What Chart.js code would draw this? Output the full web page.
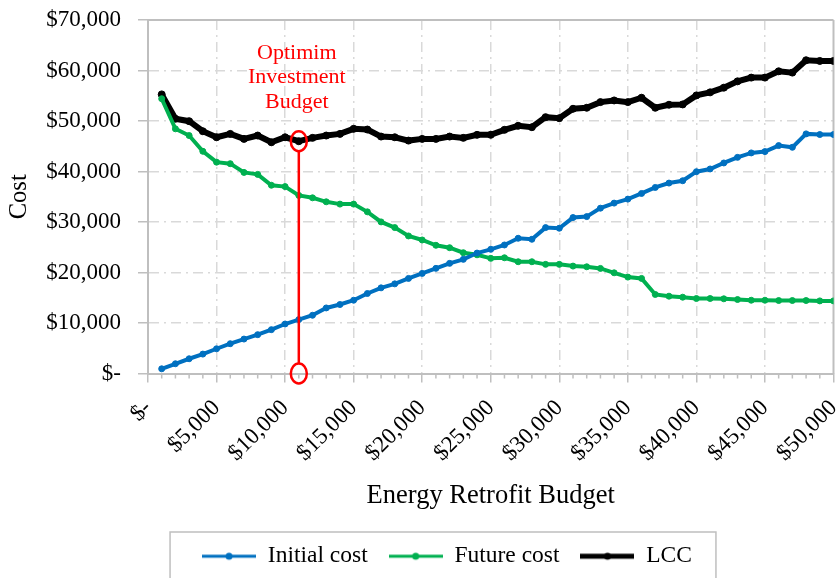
<!DOCTYPE html>
<html>
<head>
<meta charset="utf-8">
<script src="https://cdn.jsdelivr.net/npm/chart.js@4.4.1/dist/chart.umd.min.js"></script>
<style>
  html, body { margin: 0; padding: 0; background: #fff; }
  #wrap { width: 838px; height: 578px; }
</style>
</head>
<body>
<div id="wrap"><canvas id="costChart" width="838" height="578"></canvas></div>
<script>
// budget levels ($)
const budgets = [1000, 2000, 3000, 4000, 5000, 6000, 7000, 8000, 9000, 10000,
  11000, 12000, 13000, 14000, 15000, 16000, 17000, 18000, 19000, 20000,
  21000, 22000, 23000, 24000, 25000, 26000, 27000, 28000, 29000, 30000,
  31000, 32000, 33000, 34000, 35000, 36000, 37000, 38000, 39000, 40000,
  41000, 42000, 43000, 44000, 45000, 46000, 47000, 48000, 49000, 50000];

const initialCost = [930, 1930, 2920, 3840, 4900, 5900, 6820, 7690, 8680, 9800,
  10670, 11530, 12980, 13660, 14510, 15840, 16960, 17750, 18830, 19820,
  20820, 21810, 22600, 23850, 24590, 25450, 26780, 26580, 28890, 28770,
  30880, 31070, 32740, 33740, 34530, 35650, 36840, 37710, 38170, 39960,
  40500, 41690, 42800, 43680, 43940, 45130, 44790, 47450, 47320, 47320];

const futureCost = [54410, 48450, 47120, 44000, 41850, 41550, 39820, 39430, 37280, 37010,
  35260, 34790, 34000, 33540, 33540, 32010, 30020, 28890, 27240, 26440,
  25390, 24910, 23920, 23500, 22800, 22920, 22130, 22130, 21610, 21610,
  21270, 21130, 20810, 19940, 19090, 18830, 15650, 15310, 15110, 14850,
  14850, 14790, 14650, 14510, 14510, 14450, 14450, 14450, 14380, 14380];

const lcc = [55270, 50440, 49960, 47970, 46780, 47450, 46460, 47120, 45790, 46780,
  45990, 46660, 47120, 47450, 48450, 48310, 46920, 46780, 46120, 46460,
  46460, 46920, 46660, 47260, 47260, 48250, 49050, 48770, 50760, 50560,
  52420, 52620, 53740, 54070, 53740, 54610, 52620, 53220, 53280, 55070,
  55670, 56600, 57850, 58590, 58590, 59840, 59580, 62030, 61890, 61890];

const seriesNames = ['Initial cost', 'Future cost', 'LCC'];
const optimumBudget = 11000;
const noteLines = ['Optimim', 'Investment', 'Budget'];

const FONT = 'Liberation Serif';
const GRID = '#d9d9d9';
const AXIS = '#bfbfbf';

function money(v) {
  if (v === 0) return '$-';
  return '$' + v.toLocaleString('en-US');
}

function toPoints(vals) {
  return budgets.map((b, i) => ({ x: b, y: vals[i] }));
}

// little line-with-dot picture for the legend
function legendSymbol(color, lw) {
  const c = document.createElement('canvas');
  c.width = 54; c.height = 12;
  const g = c.getContext('2d');
  g.strokeStyle = color; g.lineWidth = lw;
  g.beginPath(); g.moveTo(0, 6); g.lineTo(54, 6); g.stroke();
  g.fillStyle = color;
  g.beginPath(); g.arc(27, 6, 3.5, 0, Math.PI * 2); g.fill();
  return c;
}

const colors = ['#0070C0', '#00B050', '#000000'];
const symbols = [legendSymbol(colors[0], 3), legendSymbol(colors[1], 3), legendSymbol(colors[2], 5)];

const framePlugin = {
  id: 'frame',
  afterLayout(chart) {
    // legend in the reference sits a little right of the canvas centre
    chart.legend.left += 56;
  },
  beforeDatasetsDraw(chart) {
    const { ctx, chartArea: a, scales: { x } } = chart;
    ctx.save();
    ctx.strokeStyle = AXIS;
    ctx.lineWidth = 2;
    ctx.beginPath();
    ctx.moveTo(a.left, a.top); ctx.lineTo(a.right, a.top);
    ctx.moveTo(a.right, a.top); ctx.lineTo(a.right, a.bottom);
    ctx.stroke();
    // minor ticks every $1,000
    ctx.lineWidth = 1.5;
    ctx.beginPath();
    budgets.forEach(b => {
      if (b % 5000 !== 0) {
        const px = x.getPixelForValue(b);
        ctx.moveTo(px, a.bottom); ctx.lineTo(px, a.bottom + 5);
      }
    });
    ctx.stroke();
    ctx.restore();
  },
  afterDatasetsDraw(chart) {
    const { ctx, chartArea: a, scales: { x, y } } = chart;
    const idx = budgets.indexOf(optimumBudget);
    const px = x.getPixelForValue(optimumBudget);
    const yTop = y.getPixelForValue(lcc[idx]);
    const yBot = y.getPixelForValue(0);
    ctx.save();
    ctx.strokeStyle = '#FF0000';
    ctx.lineWidth = 2.5;
    ctx.beginPath();
    ctx.moveTo(px, yTop + 10); ctx.lineTo(px, yBot - 10);
    ctx.stroke();
    [yTop, yBot].forEach(cy => {
      ctx.beginPath();
      ctx.ellipse(px, cy, 8, 10, 0, 0, Math.PI * 2);
      ctx.stroke();
    });
    ctx.fillStyle = '#FF0000';
    ctx.font = '22px "' + FONT + '"';
    ctx.textAlign = 'center';
    ctx.textBaseline = 'middle';
    noteLines.forEach((t, i) => ctx.fillText(t, px - 2, a.top + 33 + i * 24.5));
    ctx.restore();
  },
  afterDraw(chart) {
    const boxes = chart.legend.legendHitBoxes;
    if (!boxes || !boxes.length) return;
    const l = Math.min(...boxes.map(b => b.left)) - 32;
    const r = Math.max(...boxes.map(b => b.left + b.width)) + 24;
    const ctx = chart.ctx;
    ctx.save();
    ctx.strokeStyle = AXIS;
    ctx.lineWidth = 1.5;
    ctx.strokeRect(l, 532, r - l, 60);
    ctx.restore();
  }
};

const ctx = document.getElementById('costChart');

new Chart(ctx, {
  type: 'line',
  data: {
    datasets: [
      { label: seriesNames[0], data: toPoints(initialCost), borderColor: colors[0], backgroundColor: colors[0],
        borderWidth: 4, pointRadius: 3, pointBorderWidth: 1, pointHoverRadius: 3 },
      { label: seriesNames[1], data: toPoints(futureCost), borderColor: colors[1], backgroundColor: colors[1],
        borderWidth: 4, pointRadius: 3, pointBorderWidth: 1, pointHoverRadius: 3 },
      { label: seriesNames[2], data: toPoints(lcc), borderColor: colors[2], backgroundColor: colors[2],
        borderWidth: 6, pointRadius: 3.5, pointBorderWidth: 1, pointHoverRadius: 3.5 }
    ]
  },
  options: {
    responsive: false,
    animation: false,
    layout: { padding: { top: 20, right: 0, left: 0, bottom: 0 } },
    plugins: {
      tooltip: { enabled: false },
      legend: {
        position: 'bottom',
        labels: {
          font: { family: FONT, size: 23.5 },
          color: '#000',
          usePointStyle: true,
          pointStyleWidth: 54,
          padding: 21,
          generateLabels(chart) {
            const items = Chart.defaults.plugins.legend.labels.generateLabels(chart);
            items.forEach((it, i) => { it.pointStyle = symbols[i]; });
            return items;
          }
        }
      }
    },
    scales: {
      x: {
        type: 'linear',
        min: 0,
        max: 50000,
        afterFit(scale) {
          scale.height = 150;
          scale.paddingLeft = 0;
          scale.paddingRight = 0;
        },
        ticks: {
          stepSize: 5000,
          autoSkip: false,
          minRotation: 45,
          maxRotation: 45,
          padding: 12,
          color: '#000',
          font: { family: FONT, size: 23 },
          callback: v => money(v)
        },
        grid: {
          color: c => (c.tick && (c.tick.value === 0 || c.tick.value === 50000)) ? 'rgba(0,0,0,0)' : GRID,
          lineWidth: 1.5,
          tickColor: AXIS,
          tickLength: 9,
          tickWidth: 1.5
        },
        border: { display: true, color: AXIS, width: 2, dash: [10, 5, 2, 5] },
        title: {
          display: true,
          text: 'Energy Retrofit Budget',
          color: '#000',
          font: { family: FONT, size: 26.5 },
          padding: { top: 0, bottom: 12 }
        }
      },
      y: {
        min: 0,
        max: 70000,
        afterFit(scale) {
          scale.width = 148;
          scale.paddingTop = 0;
          scale.paddingBottom = 0;
        },
        ticks: {
          stepSize: 10000,
          padding: 17,
          color: '#000',
          font: { family: FONT, size: 23 },
          callback: v => money(v)
        },
        grid: {
          color: c => (c.tick && (c.tick.value === 0 || c.tick.value === 70000)) ? 'rgba(0,0,0,0)' : GRID,
          lineWidth: 1.5,
          tickColor: AXIS,
          tickLength: 10,
          tickWidth: 1.5
        },
        border: { display: true, color: AXIS, width: 2, dash: [10, 5, 2, 5] },
        title: {
          display: true,
          text: 'Cost',
          color: '#000',
          font: { family: FONT, size: 24.5 },
          padding: { top: 5, bottom: 0 }
        }
      }
    }
  },
  plugins: [framePlugin]
});
</script>
</body>
</html>
